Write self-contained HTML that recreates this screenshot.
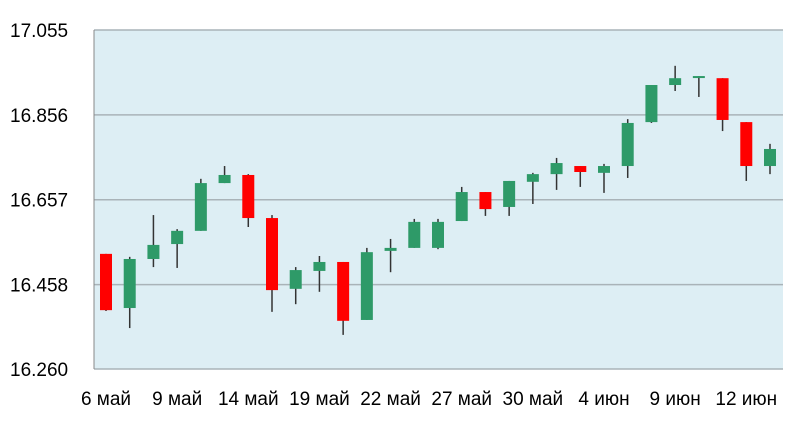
<!DOCTYPE html>
<html><head><meta charset="utf-8"><style>
body{margin:0;background:#fff;font-family:"Liberation Sans",sans-serif}
svg text{font-family:"Liberation Sans",sans-serif;font-size:19px;fill:#000}
</style></head><body>
<svg width="810" height="418" id="chart"></svg>
<script>
const dates=["6 май","","","9 май","","","14 май","","","19 май","","","22 май","","","27 май","","","30 май","","","4 июн","","","9 июн","","","12 июн",""];
const opens=[16.530,16.403,16.518,16.553,16.584,16.696,16.715,16.614,16.448,16.490,16.511,16.375,16.537,16.544,16.544,16.607,16.675,16.640,16.699,16.717,16.736,16.720,16.736,16.839,16.926,16.945,16.942,16.839,16.736];
const highs=[16.530,16.523,16.621,16.588,16.706,16.736,16.717,16.621,16.499,16.525,16.511,16.544,16.565,16.612,16.612,16.687,16.675,16.701,16.720,16.755,16.736,16.741,16.846,16.926,16.971,16.947,16.942,16.839,16.788];
const lows=[16.396,16.356,16.499,16.497,16.584,16.696,16.593,16.394,16.412,16.441,16.340,16.375,16.487,16.544,16.541,16.607,16.619,16.619,16.647,16.680,16.687,16.673,16.708,16.837,16.912,16.898,16.818,16.701,16.717];
const closes=[16.398,16.518,16.551,16.584,16.696,16.715,16.614,16.445,16.492,16.511,16.373,16.534,16.544,16.605,16.605,16.675,16.635,16.701,16.717,16.743,16.722,16.736,16.837,16.926,16.942,16.947,16.844,16.736,16.776];
const yTicks=[16.260,16.458,16.657,16.856,17.055];
const yTickLabels=["16.260","16.458","16.657","16.856","17.055"];
const svg=document.getElementById('chart');const NS='http://www.w3.org/2000/svg';
const L=94,R=783,T=30,B=369,yMin=16.260,yMax=17.055;
const y=v=>B-(v-yMin)/(yMax-yMin)*(B-T);
const x0=106,x1=770;
const x=i=>x0+(x1-x0)*i/(dates.length-1);
function mk(t,a){const e=document.createElementNS(NS,t);for(const k in a)e.setAttribute(k,a[k]);svg.appendChild(e);return e;}
const bg=mk('rect',{x:L,y:T,width:R-L,height:B-T,fill:'#ddeef4'});


yTicks.forEach((v,i)=>{
 const g=mk('line',{x1:L,x2:R,y1:y(v),y2:y(v),stroke:'#a9b3b8','stroke-width':1.5});
 
 
 const t=mk('text',{x:10,y:y(v)+7});t.textContent=yTickLabels[i];
 
 
});
const ax=mk('line',{x1:L,x2:L,y1:T,y2:B,stroke:'#888','stroke-width':1});


dates.forEach((d,i)=>{
 const cx=x(i);
 const up=closes[i]>=opens[i];
 const w=mk('line',{x1:cx,x2:cx,y1:y(highs[i]),y2:y(lows[i]),stroke:'#333','stroke-width':1.5});
 
 
 const top=y(Math.max(opens[i],closes[i])),bot=y(Math.min(opens[i],closes[i]));
 const b=mk('rect',{x:cx-6,y:top,width:12,height:Math.max(2,bot-top),fill:up?'#2e9a68':'#ff0000'});
 
 
 if(d){const t=mk('text',{x:cx,y:405,'text-anchor':'middle'});t.textContent=d;
 
 }
});
</script>
</body></html>
